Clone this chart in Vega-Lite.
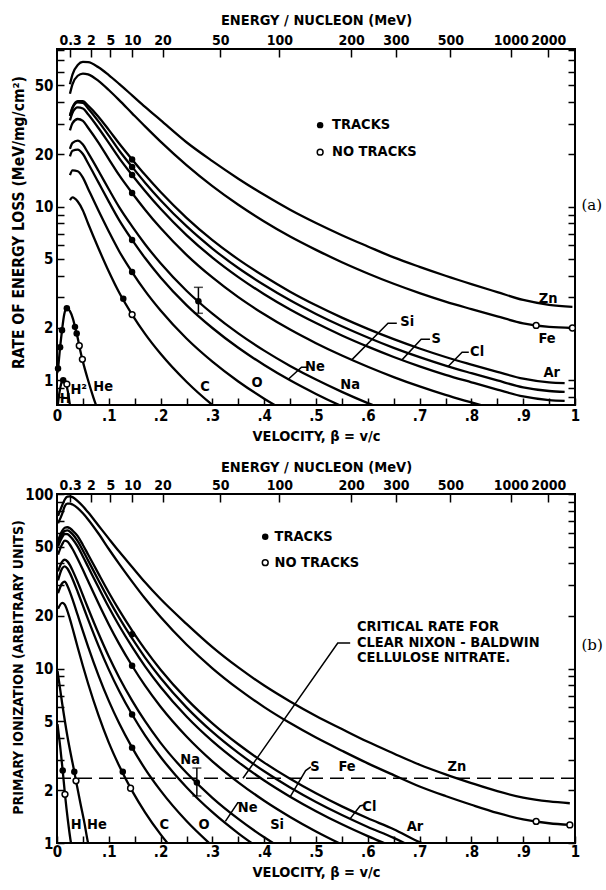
{
"$schema":"https://vega.github.io/schema/vega-lite/v6.json",
"autosize":{"type":"none"},
"params":[{"name":"width","value":518},{"name":"height","value":794}],
"padding":{"left":57,"top":49,"right":31,"bottom":47},
"bounds":"flush",
"spacing":89,
"background":"white",
"config":{
 "view":{"stroke":"black","strokeWidth":2},
 "axis":{"domain":false,"grid":false,"labelFont":"DejaVu Sans Condensed, sans-serif","labelFontWeight":"bold","labelFontSize":15,"labelColor":"black","titleFont":"DejaVu Sans Condensed, sans-serif","titleFontWeight":"bold","titleFontSize":14.5,"titleColor":"black","tickColor":"black","tickWidth":1.5,"tickSize":-7,"labelOverlap":false,"labelFlush":false,"labelBound":false},
 "text":{"font":"DejaVu Sans Condensed, sans-serif","fontWeight":"bold","fontSize":14.5,"color":"black"}
},
"datasets":{
"ac":[
{"s":"H","b":0.001,"v":0.7},{"s":"H","b":0.005,"v":0.86},{"s":"H","b":0.009,"v":0.97},{"s":"H","b":0.013,"v":1.0},{"s":"H","b":0.017,"v":0.96},{"s":"H","b":0.021,"v":0.86},{"s":"H","b":0.025,"v":0.72},{"s":"H","b":0.027,"v":0.68},
{"s":"He","b":0.0005,"v":1.1},{"s":"He","b":0.002,"v":1.17},{"s":"He","b":0.006,"v":1.55},{"s":"He","b":0.0097,"v":1.94},{"s":"He","b":0.014,"v":2.4},{"s":"He","b":0.019,"v":2.6},{"s":"He","b":0.025,"v":2.5},{"s":"He","b":0.031,"v":2.25},{"s":"He","b":0.0347,"v":2.03},{"s":"He","b":0.04,"v":1.75},{"s":"He","b":0.045,"v":1.48},{"s":"He","b":0.05,"v":1.28},{"s":"He","b":0.06,"v":1.0},{"s":"He","b":0.07,"v":0.8},{"s":"He","b":0.076,"v":0.71},
{"s":"C","b":0.025,"v":10.9},{"s":"C","b":0.03,"v":11.3},{"s":"C","b":0.04,"v":10.7},{"s":"C","b":0.05,"v":9.5},{"s":"C","b":0.06,"v":8.0},{"s":"C","b":0.08,"v":5.76},{"s":"C","b":0.1,"v":4.23},{"s":"C","b":0.12,"v":3.2},{"s":"C","b":0.145,"v":2.39},{"s":"C","b":0.17,"v":1.85},{"s":"C","b":0.2,"v":1.42},{"s":"C","b":0.25,"v":0.98},{"s":"C","b":0.3,"v":0.72},{"s":"C","b":0.35,"v":0.554},
{"s":"O","b":0.025,"v":15.2},{"s":"O","b":0.03,"v":16.2},{"s":"O","b":0.04,"v":16.0},{"s":"O","b":0.05,"v":14.7},{"s":"O","b":0.06,"v":12.7},{"s":"O","b":0.08,"v":9.5},{"s":"O","b":0.1,"v":7.2},{"s":"O","b":0.12,"v":5.54},{"s":"O","b":0.145,"v":4.2},{"s":"O","b":0.17,"v":3.27},{"s":"O","b":0.2,"v":2.52},{"s":"O","b":0.25,"v":1.74},{"s":"O","b":0.3,"v":1.28},{"s":"O","b":0.35,"v":0.984},{"s":"O","b":0.4,"v":0.783},{"s":"O","b":0.45,"v":0.639},
{"s":"Ne","b":0.025,"v":19.5},{"s":"Ne","b":0.03,"v":21.0},{"s":"Ne","b":0.04,"v":21.3},{"s":"Ne","b":0.05,"v":20.1},{"s":"Ne","b":0.06,"v":17.8},{"s":"Ne","b":0.08,"v":13.8},{"s":"Ne","b":0.1,"v":10.7},{"s":"Ne","b":0.12,"v":8.37},{"s":"Ne","b":0.145,"v":6.43},{"s":"Ne","b":0.17,"v":5.06},{"s":"Ne","b":0.2,"v":3.91},{"s":"Ne","b":0.25,"v":2.71},{"s":"Ne","b":0.3,"v":2.0},{"s":"Ne","b":0.35,"v":1.538},{"s":"Ne","b":0.4,"v":1.224},{"s":"Ne","b":0.45,"v":0.999},{"s":"Ne","b":0.5,"v":0.834},{"s":"Ne","b":0.55,"v":0.708},{"s":"Ne","b":0.6,"v":0.61},
{"s":"Na","b":0.025,"v":21.5},{"s":"Na","b":0.03,"v":23.3},{"s":"Na","b":0.04,"v":24.0},{"s":"Na","b":0.05,"v":22.8},{"s":"Na","b":0.06,"v":20.4},{"s":"Na","b":0.08,"v":16.1},{"s":"Na","b":0.1,"v":12.6},{"s":"Na","b":0.12,"v":9.94},{"s":"Na","b":0.145,"v":7.7},{"s":"Na","b":0.17,"v":6.08},{"s":"Na","b":0.2,"v":4.72},{"s":"Na","b":0.25,"v":3.28},{"s":"Na","b":0.3,"v":2.42},{"s":"Na","b":0.35,"v":1.861},{"s":"Na","b":0.4,"v":1.481},{"s":"Na","b":0.45,"v":1.209},{"s":"Na","b":0.5,"v":1.009},{"s":"Na","b":0.55,"v":0.857},{"s":"Na","b":0.6,"v":0.738},{"s":"Na","b":0.65,"v":0.644},
{"s":"Si","b":0.025,"v":27.5},{"s":"Si","b":0.03,"v":30.3},{"s":"Si","b":0.04,"v":32.0},{"s":"Si","b":0.05,"v":31.2},{"s":"Si","b":0.06,"v":28.5},{"s":"Si","b":0.08,"v":23.4},{"s":"Si","b":0.1,"v":18.8},{"s":"Si","b":0.12,"v":15.19},{"s":"Si","b":0.145,"v":12.0},{"s":"Si","b":0.17,"v":9.61},{"s":"Si","b":0.2,"v":7.53},{"s":"Si","b":0.25,"v":5.28},{"s":"Si","b":0.3,"v":3.91},{"s":"Si","b":0.35,"v":3.01},{"s":"Si","b":0.4,"v":2.4},{"s":"Si","b":0.45,"v":1.958},{"s":"Si","b":0.5,"v":1.635},{"s":"Si","b":0.55,"v":1.388},{"s":"Si","b":0.6,"v":1.196},{"s":"Si","b":0.65,"v":1.043},{"s":"Si","b":0.7,"v":0.921},{"s":"Si","b":0.75,"v":0.823},{"s":"Si","b":0.8,"v":0.745},{"s":"Si","b":0.85,"v":0.676},
{"s":"S","b":0.025,"v":31.4},{"s":"S","b":0.03,"v":34.8},{"s":"S","b":0.04,"v":37.3},{"s":"S","b":0.05,"v":36.8},{"s":"S","b":0.06,"v":34.1},{"s":"S","b":0.08,"v":28.4},{"s":"S","b":0.1,"v":23.3},{"s":"S","b":0.12,"v":19.06},{"s":"S","b":0.145,"v":15.23},{"s":"S","b":0.17,"v":12.31},{"s":"S","b":0.2,"v":9.72},{"s":"S","b":0.25,"v":6.86},{"s":"S","b":0.3,"v":5.09},{"s":"S","b":0.35,"v":3.93},{"s":"S","b":0.4,"v":3.13},{"s":"S","b":0.45,"v":2.557},{"s":"S","b":0.5,"v":2.135},{"s":"S","b":0.55,"v":1.812},{"s":"S","b":0.6,"v":1.562},{"s":"S","b":0.65,"v":1.362},{"s":"S","b":0.7,"v":1.203},{"s":"S","b":0.75,"v":1.075},{"s":"S","b":0.8,"v":0.973},{"s":"S","b":0.85,"v":0.883},{"s":"S","b":0.9,"v":0.806},{"s":"S","b":0.95,"v":0.768},{"s":"S","b":0.98,"v":0.76},
{"s":"Cl","b":0.025,"v":33.3},{"s":"Cl","b":0.03,"v":37.0},{"s":"Cl","b":0.04,"v":39.9},{"s":"Cl","b":0.05,"v":39.6},{"s":"Cl","b":0.06,"v":36.8},{"s":"Cl","b":0.08,"v":31.0},{"s":"Cl","b":0.1,"v":25.65},{"s":"Cl","b":0.12,"v":21.07},{"s":"Cl","b":0.145,"v":16.95},{"s":"Cl","b":0.17,"v":13.75},{"s":"Cl","b":0.2,"v":10.9},{"s":"Cl","b":0.25,"v":7.72},{"s":"Cl","b":0.3,"v":5.74},{"s":"Cl","b":0.35,"v":4.43},{"s":"Cl","b":0.4,"v":3.54},{"s":"Cl","b":0.45,"v":2.887},{"s":"Cl","b":0.5,"v":2.41},{"s":"Cl","b":0.55,"v":2.046},{"s":"Cl","b":0.6,"v":1.763},{"s":"Cl","b":0.65,"v":1.537},{"s":"Cl","b":0.7,"v":1.358},{"s":"Cl","b":0.75,"v":1.214},{"s":"Cl","b":0.8,"v":1.098},{"s":"Cl","b":0.85,"v":0.997},{"s":"Cl","b":0.9,"v":0.91},{"s":"Cl","b":0.95,"v":0.867},{"s":"Cl","b":0.98,"v":0.857},
{"s":"Ar","b":0.025,"v":33.5},{"s":"Ar","b":0.03,"v":37.4},{"s":"Ar","b":0.04,"v":40.6},{"s":"Ar","b":0.05,"v":40.5},{"s":"Ar","b":0.06,"v":38.2},{"s":"Ar","b":0.08,"v":33.0},{"s":"Ar","b":0.1,"v":27.7},{"s":"Ar","b":0.12,"v":23.14},{"s":"Ar","b":0.145,"v":18.72},{"s":"Ar","b":0.17,"v":15.26},{"s":"Ar","b":0.2,"v":12.14},{"s":"Ar","b":0.25,"v":8.63},{"s":"Ar","b":0.3,"v":6.42},{"s":"Ar","b":0.35,"v":4.97},{"s":"Ar","b":0.4,"v":3.97},{"s":"Ar","b":0.45,"v":3.237},{"s":"Ar","b":0.5,"v":2.702},{"s":"Ar","b":0.55,"v":2.294},{"s":"Ar","b":0.6,"v":1.976},{"s":"Ar","b":0.65,"v":1.724},{"s":"Ar","b":0.7,"v":1.523},{"s":"Ar","b":0.75,"v":1.361},{"s":"Ar","b":0.8,"v":1.231},{"s":"Ar","b":0.85,"v":1.118},{"s":"Ar","b":0.9,"v":1.021},{"s":"Ar","b":0.95,"v":0.972},{"s":"Ar","b":0.98,"v":0.962},
{"s":"Fe","b":0.025,"v":44.7},{"s":"Fe","b":0.03,"v":50.8},{"s":"Fe","b":0.04,"v":56.8},{"s":"Fe","b":0.05,"v":58.5},{"s":"Fe","b":0.06,"v":57.8},{"s":"Fe","b":0.08,"v":53.1},{"s":"Fe","b":0.1,"v":47.0},{"s":"Fe","b":0.12,"v":41.1},{"s":"Fe","b":0.145,"v":34.5},{"s":"Fe","b":0.17,"v":29.0},{"s":"Fe","b":0.2,"v":23.7},{"s":"Fe","b":0.25,"v":17.36},{"s":"Fe","b":0.3,"v":13.14},{"s":"Fe","b":0.35,"v":10.26},{"s":"Fe","b":0.4,"v":8.22},{"s":"Fe","b":0.45,"v":6.73},{"s":"Fe","b":0.5,"v":5.64},{"s":"Fe","b":0.55,"v":4.786},{"s":"Fe","b":0.6,"v":4.124},{"s":"Fe","b":0.65,"v":3.596},{"s":"Fe","b":0.7,"v":3.177},{"s":"Fe","b":0.75,"v":2.839},{"s":"Fe","b":0.8,"v":2.569},{"s":"Fe","b":0.85,"v":2.332},{"s":"Fe","b":0.9,"v":2.129},{"s":"Fe","b":0.95,"v":2.028},{"s":"Fe","b":0.995,"v":2.0},
{"s":"Zn","b":0.025,"v":50.8},{"s":"Zn","b":0.03,"v":57.9},{"s":"Zn","b":0.04,"v":65.6},{"s":"Zn","b":0.05,"v":68.2},{"s":"Zn","b":0.06,"v":68.0},{"s":"Zn","b":0.08,"v":63.6},{"s":"Zn","b":0.1,"v":57.3},{"s":"Zn","b":0.12,"v":51.0},{"s":"Zn","b":0.145,"v":43.8},{"s":"Zn","b":0.17,"v":37.6},{"s":"Zn","b":0.2,"v":31.5},{"s":"Zn","b":0.25,"v":23.5},{"s":"Zn","b":0.3,"v":18.3},{"s":"Zn","b":0.35,"v":14.5},{"s":"Zn","b":0.4,"v":11.7},{"s":"Zn","b":0.45,"v":9.6},{"s":"Zn","b":0.5,"v":8.05},{"s":"Zn","b":0.55,"v":6.85},{"s":"Zn","b":0.6,"v":5.9},{"s":"Zn","b":0.65,"v":5.1},{"s":"Zn","b":0.7,"v":4.5},{"s":"Zn","b":0.75,"v":4.0},{"s":"Zn","b":0.8,"v":3.58},{"s":"Zn","b":0.85,"v":3.22},{"s":"Zn","b":0.9,"v":2.9},{"s":"Zn","b":0.95,"v":2.72},{"s":"Zn","b":0.995,"v":2.65}
],
"al":[
{"id":"Si","o":1,"b":0.569,"v":1.31},{"id":"Si","o":2,"b":0.639,"v":2.13},{"id":"Si","o":3,"b":0.656,"v":2.13},
{"id":"S","o":1,"b":0.666,"v":1.31},{"id":"S","o":2,"b":0.703,"v":1.72},{"id":"S","o":3,"b":0.72,"v":1.72},
{"id":"Cl","o":1,"b":0.755,"v":1.2},{"id":"Cl","o":2,"b":0.782,"v":1.45},{"id":"Cl","o":3,"b":0.795,"v":1.45},
{"id":"Ne","o":1,"b":0.446,"v":1.01},{"id":"Ne","o":2,"b":0.472,"v":1.19},{"id":"Ne","o":3,"b":0.485,"v":1.19}
],
"ae":[{"b":0.273,"lo":2.43,"hi":3.43}],
"ap":[
{"t":"f","b":0.002,"v":1.17},{"t":"f","b":0.006,"v":1.55},{"t":"f","b":0.0097,"v":1.94},{"t":"f","b":0.019,"v":2.6},{"t":"f","b":0.0347,"v":2.03},{"t":"f","b":0.038,"v":1.86},{"t":"f","b":0.012,"v":1.0},
{"t":"f","b":0.145,"v":18.72},{"t":"f","b":0.145,"v":16.95},{"t":"f","b":0.145,"v":15.23},{"t":"f","b":0.145,"v":12.0},{"t":"f","b":0.145,"v":6.43},{"t":"f","b":0.145,"v":4.2},
{"t":"f","b":0.128,"v":2.95},{"t":"f","b":0.273,"v":2.85},{"t":"f","b":0.508,"v":29.5},
{"t":"o","b":0.043,"v":1.58},{"t":"o","b":0.049,"v":1.32},{"t":"o","b":0.019,"v":0.95},{"t":"o","b":0.145,"v":2.39},{"t":"o","b":0.925,"v":2.07},{"t":"o","b":0.995,"v":2.0},{"t":"o","b":0.508,"v":20.6}
],
"at":[
{"a":"c","b":0.948,"v":2.95,"t":"Zn"},{"a":"c","b":0.946,"v":1.72,"t":"Fe"},{"a":"c","b":0.955,"v":1.1,"t":"Ar"},{"a":"c","b":0.676,"v":2.17,"t":"Si"},{"a":"c","b":0.732,"v":1.72,"t":"S"},{"a":"c","b":0.811,"v":1.45,"t":"Cl"},{"a":"c","b":0.498,"v":1.19,"t":"Ne"},{"a":"c","b":0.566,"v":0.935,"t":"Na"},{"a":"c","b":0.286,"v":0.915,"t":"C"},{"a":"c","b":0.386,"v":0.96,"t":"O"},{"a":"c","b":0.089,"v":0.92,"t":"He"},{"a":"c","b":0.042,"v":0.88,"t":"H²"},{"a":"c","b":0.016,"v":0.78,"t":"H"},
{"a":"l","b":0.531,"v":29.5,"t":"TRACKS"},{"a":"l","b":0.531,"v":20.6,"t":"NO TRACKS"}
],
"bc":[
{"s":"H","b":0.001,"v":4.8},{"s":"H","b":0.006,"v":3.6},{"s":"H","b":0.011,"v":2.6},{"s":"H","b":0.0154,"v":1.9},{"s":"H","b":0.021,"v":1.35},{"s":"H","b":0.027,"v":1.0},{"s":"H","b":0.03,"v":0.9},
{"s":"He","b":0.001,"v":9.7},{"s":"He","b":0.01,"v":6.3},{"s":"He","b":0.02,"v":4.1},{"s":"He","b":0.0334,"v":2.56},{"s":"He","b":0.0367,"v":2.27},{"s":"He","b":0.045,"v":1.7},{"s":"He","b":0.053,"v":1.3},{"s":"He","b":0.06,"v":1.0},{"s":"He","b":0.065,"v":0.88},
{"s":"C","b":0.002,"v":22},{"s":"C","b":0.01,"v":23.8},{"s":"C","b":0.015,"v":23.2},{"s":"C","b":0.02,"v":21.4},{"s":"C","b":0.025,"v":19.2},{"s":"C","b":0.03,"v":17.0},{"s":"C","b":0.04,"v":13.2},{"s":"C","b":0.05,"v":10.33},{"s":"C","b":0.06,"v":8.2},{"s":"C","b":0.08,"v":5.4},{"s":"C","b":0.1,"v":3.76},{"s":"C","b":0.12,"v":2.77},{"s":"C","b":0.145,"v":1.99},{"s":"C","b":0.17,"v":1.5},{"s":"C","b":0.2,"v":1.12},{"s":"C","b":0.25,"v":0.751},
{"s":"O","b":0.002,"v":27},{"s":"O","b":0.01,"v":30.8},{"s":"O","b":0.015,"v":31.5},{"s":"O","b":0.02,"v":29.8},{"s":"O","b":0.025,"v":27.4},{"s":"O","b":0.03,"v":24.9},{"s":"O","b":0.04,"v":20.2},{"s":"O","b":0.05,"v":16.37},{"s":"O","b":0.06,"v":13.35},{"s":"O","b":0.08,"v":9.14},{"s":"O","b":0.1,"v":6.52},{"s":"O","b":0.12,"v":4.85},{"s":"O","b":0.145,"v":3.52},{"s":"O","b":0.17,"v":2.66},{"s":"O","b":0.2,"v":1.995},{"s":"O","b":0.25,"v":1.336},{"s":"O","b":0.3,"v":0.961},
{"s":"Ne","b":0.002,"v":32},{"s":"Ne","b":0.01,"v":37.5},{"s":"Ne","b":0.015,"v":38.5},{"s":"Ne","b":0.02,"v":37.4},{"s":"Ne","b":0.025,"v":35.2},{"s":"Ne","b":0.03,"v":32.6},{"s":"Ne","b":0.04,"v":27.45},{"s":"Ne","b":0.05,"v":22.9},{"s":"Ne","b":0.06,"v":19.11},{"s":"Ne","b":0.08,"v":13.52},{"s":"Ne","b":0.1,"v":9.85},{"s":"Ne","b":0.12,"v":7.43},{"s":"Ne","b":0.145,"v":5.45},{"s":"Ne","b":0.17,"v":4.14},{"s":"Ne","b":0.2,"v":3.11},{"s":"Ne","b":0.25,"v":2.087},{"s":"Ne","b":0.3,"v":1.501},{"s":"Ne","b":0.35,"v":1.136},{"s":"Ne","b":0.4,"v":0.891},
{"s":"Na","b":0.002,"v":36},{"s":"Na","b":0.01,"v":41.0},{"s":"Na","b":0.015,"v":42.0},{"s":"Na","b":0.02,"v":41.1},{"s":"Na","b":0.025,"v":39.1},{"s":"Na","b":0.03,"v":36.5},{"s":"Na","b":0.04,"v":31.2},{"s":"Na","b":0.05,"v":26.3},{"s":"Na","b":0.06,"v":22.15},{"s":"Na","b":0.08,"v":15.91},{"s":"Na","b":0.1,"v":11.71},{"s":"Na","b":0.12,"v":8.89},{"s":"Na","b":0.145,"v":6.55},{"s":"Na","b":0.17,"v":4.99},{"s":"Na","b":0.2,"v":3.75},{"s":"Na","b":0.25,"v":2.525},{"s":"Na","b":0.3,"v":1.816},{"s":"Na","b":0.35,"v":1.375},{"s":"Na","b":0.4,"v":1.078},{"s":"Na","b":0.45,"v":0.871},
{"s":"Si","b":0.002,"v":45},{"s":"Si","b":0.01,"v":51.5},{"s":"Si","b":0.015,"v":54.0},{"s":"Si","b":0.02,"v":53.5},{"s":"Si","b":0.025,"v":51.2},{"s":"Si","b":0.03,"v":48.4},{"s":"Si","b":0.04,"v":42.4},{"s":"Si","b":0.05,"v":36.76},{"s":"Si","b":0.06,"v":31.7},{"s":"Si","b":0.08,"v":23.65},{"s":"Si","b":0.1,"v":17.89},{"s":"Si","b":0.12,"v":13.85},{"s":"Si","b":0.145,"v":10.37},{"s":"Si","b":0.17,"v":7.97},{"s":"Si","b":0.2,"v":6.04},{"s":"Si","b":0.25,"v":4.08},{"s":"Si","b":0.3,"v":2.94},{"s":"Si","b":0.35,"v":2.227},{"s":"Si","b":0.4,"v":1.747},{"s":"Si","b":0.45,"v":1.411},{"s":"Si","b":0.5,"v":1.165},{"s":"Si","b":0.55,"v":0.98},
{"s":"S","b":0.002,"v":50},{"s":"S","b":0.01,"v":56.5},{"s":"S","b":0.015,"v":59.0},{"s":"S","b":0.02,"v":58.8},{"s":"S","b":0.025,"v":57.4},{"s":"S","b":0.03,"v":55.2},{"s":"S","b":0.04,"v":49.9},{"s":"S","b":0.05,"v":43.86},{"s":"S","b":0.06,"v":38.3},{"s":"S","b":0.08,"v":29.19},{"s":"S","b":0.1,"v":22.43},{"s":"S","b":0.12,"v":17.58},{"s":"S","b":0.145,"v":13.3},{"s":"S","b":0.17,"v":10.29},{"s":"S","b":0.2,"v":7.84},{"s":"S","b":0.25,"v":5.31},{"s":"S","b":0.3,"v":3.835},{"s":"S","b":0.35,"v":2.908},{"s":"S","b":0.4,"v":2.282},{"s":"S","b":0.45,"v":1.843},{"s":"S","b":0.5,"v":1.522},{"s":"S","b":0.55,"v":1.28},{"s":"S","b":0.6,"v":1.095},{"s":"S","b":0.65,"v":0.948},
{"s":"Cl","b":0.002,"v":52},{"s":"Cl","b":0.01,"v":59.0},{"s":"Cl","b":0.015,"v":61.5},{"s":"Cl","b":0.02,"v":61.8},{"s":"Cl","b":0.025,"v":60.8},{"s":"Cl","b":0.03,"v":58.9},{"s":"Cl","b":0.04,"v":53.65},{"s":"Cl","b":0.05,"v":47.45},{"s":"Cl","b":0.06,"v":41.67},{"s":"Cl","b":0.08,"v":32.05},{"s":"Cl","b":0.1,"v":24.81},{"s":"Cl","b":0.12,"v":19.55},{"s":"Cl","b":0.145,"v":14.86},{"s":"Cl","b":0.17,"v":11.55},{"s":"Cl","b":0.2,"v":8.82},{"s":"Cl","b":0.25,"v":5.99},{"s":"Cl","b":0.3,"v":4.33},{"s":"Cl","b":0.35,"v":3.283},{"s":"Cl","b":0.4,"v":2.576},{"s":"Cl","b":0.45,"v":2.08},{"s":"Cl","b":0.5,"v":1.718},{"s":"Cl","b":0.55,"v":1.446},{"s":"Cl","b":0.6,"v":1.236},{"s":"Cl","b":0.65,"v":1.07},{"s":"Cl","b":0.7,"v":0.902},
{"s":"Ar","b":0.002,"v":54},{"s":"Ar","b":0.01,"v":61.5},{"s":"Ar","b":0.015,"v":64.0},{"s":"Ar","b":0.02,"v":64.5},{"s":"Ar","b":0.025,"v":63.6},{"s":"Ar","b":0.03,"v":61.8},{"s":"Ar","b":0.04,"v":57.36},{"s":"Ar","b":0.05,"v":51.05},{"s":"Ar","b":0.06,"v":45.04},{"s":"Ar","b":0.08,"v":34.95},{"s":"Ar","b":0.1,"v":27.25},{"s":"Ar","b":0.12,"v":21.59},{"s":"Ar","b":0.145,"v":16.5},{"s":"Ar","b":0.17,"v":12.86},{"s":"Ar","b":0.2,"v":9.84},{"s":"Ar","b":0.25,"v":6.7},{"s":"Ar","b":0.3,"v":4.85},{"s":"Ar","b":0.35,"v":3.68},{"s":"Ar","b":0.4,"v":2.888},{"s":"Ar","b":0.45,"v":2.332},{"s":"Ar","b":0.5,"v":1.926},{"s":"Ar","b":0.55,"v":1.621},{"s":"Ar","b":0.6,"v":1.385},{"s":"Ar","b":0.65,"v":1.2},{"s":"Ar","b":0.7,"v":1.011},{"s":"Ar","b":0.75,"v":0.891},
{"s":"Fe","b":0.002,"v":68},{"s":"Fe","b":0.01,"v":77},{"s":"Fe","b":0.015,"v":85},{"s":"Fe","b":0.02,"v":88},{"s":"Fe","b":0.025,"v":88},{"s":"Fe","b":0.03,"v":87},{"s":"Fe","b":0.04,"v":83},{"s":"Fe","b":0.05,"v":77.5},{"s":"Fe","b":0.06,"v":71.5},{"s":"Fe","b":0.08,"v":59.37},{"s":"Fe","b":0.1,"v":48.41},{"s":"Fe","b":0.12,"v":39.78},{"s":"Fe","b":0.145,"v":31.49},{"s":"Fe","b":0.17,"v":25.19},{"s":"Fe","b":0.2,"v":19.71},{"s":"Fe","b":0.25,"v":13.72},{"s":"Fe","b":0.3,"v":10.03},{"s":"Fe","b":0.35,"v":7.64},{"s":"Fe","b":0.4,"v":6.01},{"s":"Fe","b":0.45,"v":4.866},{"s":"Fe","b":0.5,"v":4.019},{"s":"Fe","b":0.55,"v":3.381},{"s":"Fe","b":0.6,"v":2.86},{"s":"Fe","b":0.65,"v":2.45},{"s":"Fe","b":0.7,"v":2.109},{"s":"Fe","b":0.75,"v":1.859},{"s":"Fe","b":0.8,"v":1.656},{"s":"Fe","b":0.85,"v":1.487},{"s":"Fe","b":0.9,"v":1.366},{"s":"Fe","b":0.95,"v":1.298},{"s":"Fe","b":0.99,"v":1.271},
{"s":"Zn","b":0.002,"v":75},{"s":"Zn","b":0.01,"v":86},{"s":"Zn","b":0.015,"v":93},{"s":"Zn","b":0.02,"v":96.5},{"s":"Zn","b":0.025,"v":97},{"s":"Zn","b":0.03,"v":96},{"s":"Zn","b":0.04,"v":91},{"s":"Zn","b":0.05,"v":85},{"s":"Zn","b":0.06,"v":78.5},{"s":"Zn","b":0.08,"v":66},{"s":"Zn","b":0.1,"v":55.5},{"s":"Zn","b":0.12,"v":46.8},{"s":"Zn","b":0.145,"v":38.2},{"s":"Zn","b":0.17,"v":31.2},{"s":"Zn","b":0.2,"v":25.0},{"s":"Zn","b":0.25,"v":18.02},{"s":"Zn","b":0.3,"v":13.26},{"s":"Zn","b":0.35,"v":10.14},{"s":"Zn","b":0.4,"v":7.99},{"s":"Zn","b":0.45,"v":6.478},{"s":"Zn","b":0.5,"v":5.35},{"s":"Zn","b":0.55,"v":4.5},{"s":"Zn","b":0.6,"v":3.8},{"s":"Zn","b":0.65,"v":3.26},{"s":"Zn","b":0.7,"v":2.81},{"s":"Zn","b":0.75,"v":2.475},{"s":"Zn","b":0.8,"v":2.205},{"s":"Zn","b":0.85,"v":1.98},{"s":"Zn","b":0.9,"v":1.82},{"s":"Zn","b":0.95,"v":1.73},{"s":"Zn","b":0.99,"v":1.69}
],
"bl":[
{"id":"Ne","o":1,"b":0.325,"v":1.33},{"id":"Ne","o":2,"b":0.349,"v":1.7},{"id":"Ne","o":3,"b":0.356,"v":1.7},
{"id":"S","o":1,"b":0.45,"v":1.84},{"id":"S","o":2,"b":0.48,"v":2.6},{"id":"S","o":3,"b":0.49,"v":2.73},
{"id":"Cl","o":1,"b":0.566,"v":1.38},{"id":"Cl","o":2,"b":0.585,"v":1.63},{"id":"Cl","o":3,"b":0.592,"v":1.65},
{"id":"CR","o":1,"b":0.359,"v":2.35},{"id":"CR","o":2,"b":0.542,"v":14.0},{"id":"CR","o":3,"b":0.566,"v":14.0}
],
"be":[{"b":0.27,"lo":1.86,"hi":2.69}],
"bd":[{"v":2.35}],
"bp":[
{"t":"f","b":0.011,"v":2.6},{"t":"f","b":0.0334,"v":2.56},{"t":"f","b":0.127,"v":2.56},{"t":"f","b":0.27,"v":2.22},{"t":"f","b":0.145,"v":15.7},{"t":"f","b":0.145,"v":10.37},{"t":"f","b":0.145,"v":5.45},{"t":"f","b":0.145,"v":3.52},{"t":"f","b":0.402,"v":56.9},
{"t":"o","b":0.0154,"v":1.9},{"t":"o","b":0.0367,"v":2.27},{"t":"o","b":0.142,"v":2.06},{"t":"o","b":0.925,"v":1.33},{"t":"o","b":0.99,"v":1.27},{"t":"o","b":0.402,"v":40.4}
],
"bt":[
{"a":"c","b":0.037,"v":1.27,"t":"H"},{"a":"c","b":0.077,"v":1.27,"t":"He"},{"a":"c","b":0.207,"v":1.27,"t":"C"},{"a":"c","b":0.284,"v":1.27,"t":"O"},{"a":"c","b":0.425,"v":1.27,"t":"Si"},{"a":"c","b":0.368,"v":1.59,"t":"Ne"},{"a":"c","b":0.257,"v":2.99,"t":"Na"},{"a":"c","b":0.498,"v":2.73,"t":"S"},{"a":"c","b":0.56,"v":2.73,"t":"Fe"},{"a":"c","b":0.603,"v":1.61,"t":"Cl"},{"a":"c","b":0.691,"v":1.24,"t":"Ar"},{"a":"c","b":0.772,"v":2.73,"t":"Zn"},
{"a":"l","b":0.42,"v":56.9,"t":"TRACKS"},{"a":"l","b":0.42,"v":40.4,"t":"NO TRACKS"},
{"a":"l","b":0.579,"v":17.3,"t":"CRITICAL  RATE  FOR"},{"a":"l","b":0.579,"v":14.0,"t":"CLEAR  NIXON - BALDWIN"},{"a":"l","b":0.579,"v":11.5,"t":"CELLULOSE  NITRATE."}
]
},
"vconcat":[
{
 "width":518,"height":356,
 "resolve":{"axis":{"x":"independent","y":"independent"}},
 "layer":[
  {"data":{"name":"ac"},"mark":{"type":"line","clip":true,"interpolate":"monotone","strokeWidth":2.3,"color":"black"},
   "encoding":{
    "x":{"field":"b","type":"quantitative","scale":{"domain":[0,1],"nice":false,"zero":false},
      "axis":{"orient":"bottom","values":[0,0.05,0.1,0.15,0.2,0.25,0.3,0.35,0.4,0.45,0.5,0.55,0.6,0.65,0.7,0.75,0.8,0.85,0.9,0.95,1],
      "labelExpr":"datum.value == 0 ? '0' : datum.value == 1 ? '1' : (round(datum.value*100) % 10 == 0 ? replace(format(datum.value, '.1f'), '0.', '.') : '')",
      "labelPadding":10,"title":"VELOCITY,  β = v/c","titlePadding":6}},
    "y":{"field":"v","type":"quantitative","scale":{"type":"log","domain":[0.72,81],"nice":false},
      "axis":{"orient":"left","values":[0.8,0.9,1,2,3,4,5,6,7,8,9,10,20,30,40,50,60,70,80],
      "labelExpr":"indexof([1,2,5,10,20,50], datum.value) >= 0 ? '' + datum.value : ''",
      "labelPadding":11,"title":"RATE OF ENERGY LOSS (MeV/mg/cm²)","titleFontSize":15.5,"titleX":-39,"titleBaseline":"middle","titleY":173}},
    "detail":{"field":"s"}}},
  {"data":{"name":"al"},"mark":{"type":"line","strokeWidth":1.5,"color":"black"},
   "encoding":{"x":{"field":"b","type":"quantitative","axis":null},"y":{"field":"v","type":"quantitative","axis":null},"detail":{"field":"id"},"order":{"field":"o"}}},
  {"data":{"name":"ae"},"mark":{"type":"rule","strokeWidth":1.5,"color":"black"},
   "encoding":{"x":{"field":"b","type":"quantitative","axis":null},"y":{"field":"lo","type":"quantitative","axis":null},"y2":{"field":"hi"}}},
  {"data":{"name":"ae"},"mark":{"type":"tick","orient":"horizontal","size":9,"thickness":1.5,"color":"black"},
   "encoding":{"x":{"field":"b","type":"quantitative","axis":null},"y":{"field":"lo","type":"quantitative","axis":null}}},
  {"data":{"name":"ae"},"mark":{"type":"tick","orient":"horizontal","size":9,"thickness":1.5,"color":"black"},
   "encoding":{"x":{"field":"b","type":"quantitative","axis":null},"y":{"field":"hi","type":"quantitative","axis":null}}},
  {"data":{"name":"ap"},"transform":[{"filter":"datum.t == 'f'"}],"mark":{"type":"circle","size":42,"color":"black","opacity":1},
   "encoding":{"x":{"field":"b","type":"quantitative","axis":null},"y":{"field":"v","type":"quantitative","axis":null}}},
  {"data":{"name":"ap"},"transform":[{"filter":"datum.t == 'o'"}],"mark":{"type":"point","shape":"circle","filled":true,"fill":"white","stroke":"black","strokeWidth":1.5,"size":34,"opacity":1},
   "encoding":{"x":{"field":"b","type":"quantitative","axis":null},"y":{"field":"v","type":"quantitative","axis":null}}},
  {"data":{"name":"at"},"transform":[{"filter":"datum.a == 'c'"}],"mark":{"type":"text","align":"center","baseline":"middle"},
   "encoding":{
    "x":{"field":"b","type":"quantitative","axis":{"orient":"top","values":[0.0254,0.0655,0.1032,0.1453,0.2039,0.3151,0.4295,0.5677,0.6541,0.7593,0.876,0.9482],
      "labelExpr":"['0.3','2','5','10','20','50','100','200','300','500','1000','2000'][indexof([0.0254,0.0655,0.1032,0.1453,0.2039,0.3151,0.4295,0.5677,0.6541,0.7593,0.876,0.9482], datum.value)]",
      "labelFontSize":14,"labelPadding":10,"tickSize":-8,"title":"ENERGY / NUCLEON (MeV)","titlePadding":6}},
    "y":{"field":"v","type":"quantitative","axis":{"orient":"right","values":[0.8,0.9,1,2,3,4,5,6,7,8,9,10,20,30,40,50,60,70,80],"labels":false,
      "title":"(a)","titleAngle":0,"titleFont":"DejaVu Serif","titleFontWeight":"normal","titleFontSize":15,"titleAlign":"left","titleBaseline":"middle","titleX":6,"titleY":155}},
    "text":{"field":"t"}}},
  {"data":{"name":"at"},"transform":[{"filter":"datum.a == 'l'"}],"mark":{"type":"text","align":"left","baseline":"middle"},
   "encoding":{"x":{"field":"b","type":"quantitative","axis":null},"y":{"field":"v","type":"quantitative","axis":null},"text":{"field":"t"}}}
 ]
},
{
 "width":518,"height":349,
 "resolve":{"axis":{"x":"independent","y":"independent"}},
 "layer":[
  {"data":{"name":"bc"},"mark":{"type":"line","clip":true,"interpolate":"monotone","strokeWidth":2.3,"color":"black"},
   "encoding":{
    "x":{"field":"b","type":"quantitative","scale":{"domain":[0,1],"nice":false,"zero":false},
      "axis":{"orient":"bottom","values":[0,0.05,0.1,0.15,0.2,0.25,0.3,0.35,0.4,0.45,0.5,0.55,0.6,0.65,0.7,0.75,0.8,0.85,0.9,0.95,1],
      "labelExpr":"datum.value == 0 ? '0' : datum.value == 1 ? '1' : (round(datum.value*100) % 10 == 0 ? replace(format(datum.value, '.1f'), '0.', '.') : '')",
      "labelPadding":8,"title":"VELOCITY,  β = v/c","titlePadding":6}},
    "y":{"field":"v","type":"quantitative","scale":{"type":"log","domain":[1,100],"nice":false},
      "axis":{"orient":"left","values":[1,2,3,4,5,6,7,8,9,10,20,30,40,50,60,70,80,90,100],
      "labelExpr":"indexof([1,2,5,10,20,50,100], datum.value) >= 0 ? '' + datum.value : ''",
      "labelPadding":11,"title":"PRIMARY IONIZATION (ARBITRARY UNITS)","titleFontSize":14,"titleX":-39,"titleBaseline":"middle","titleY":173}},
    "detail":{"field":"s"}}},
  {"data":{"name":"bd"},"mark":{"type":"rule","strokeWidth":1.5,"strokeDash":[14,7],"color":"black"},
   "encoding":{"y":{"field":"v","type":"quantitative","axis":null}}},
  {"data":{"name":"bl"},"mark":{"type":"line","strokeWidth":1.5,"color":"black"},
   "encoding":{"x":{"field":"b","type":"quantitative","axis":null},"y":{"field":"v","type":"quantitative","axis":null},"detail":{"field":"id"},"order":{"field":"o"}}},
  {"data":{"name":"be"},"mark":{"type":"rule","strokeWidth":1.5,"color":"black"},
   "encoding":{"x":{"field":"b","type":"quantitative","axis":null},"y":{"field":"lo","type":"quantitative","axis":null},"y2":{"field":"hi"}}},
  {"data":{"name":"be"},"mark":{"type":"tick","orient":"horizontal","size":9,"thickness":1.5,"color":"black"},
   "encoding":{"x":{"field":"b","type":"quantitative","axis":null},"y":{"field":"lo","type":"quantitative","axis":null}}},
  {"data":{"name":"be"},"mark":{"type":"tick","orient":"horizontal","size":9,"thickness":1.5,"color":"black"},
   "encoding":{"x":{"field":"b","type":"quantitative","axis":null},"y":{"field":"hi","type":"quantitative","axis":null}}},
  {"data":{"name":"bp"},"transform":[{"filter":"datum.t == 'f'"}],"mark":{"type":"circle","size":42,"color":"black","opacity":1},
   "encoding":{"x":{"field":"b","type":"quantitative","axis":null},"y":{"field":"v","type":"quantitative","axis":null}}},
  {"data":{"name":"bp"},"transform":[{"filter":"datum.t == 'o'"}],"mark":{"type":"point","shape":"circle","filled":true,"fill":"white","stroke":"black","strokeWidth":1.5,"size":34,"opacity":1},
   "encoding":{"x":{"field":"b","type":"quantitative","axis":null},"y":{"field":"v","type":"quantitative","axis":null}}},
  {"data":{"name":"bt"},"transform":[{"filter":"datum.a == 'c'"}],"mark":{"type":"text","align":"center","baseline":"middle"},
   "encoding":{
    "x":{"field":"b","type":"quantitative","axis":{"orient":"top","values":[0.0254,0.0655,0.1032,0.1453,0.2039,0.3151,0.4295,0.5677,0.6541,0.7593,0.876,0.9482],
      "labelExpr":"['0.3','2','5','10','20','50','100','200','300','500','1000','2000'][indexof([0.0254,0.0655,0.1032,0.1453,0.2039,0.3151,0.4295,0.5677,0.6541,0.7593,0.876,0.9482], datum.value)]",
      "labelFontSize":14,"labelPadding":10,"tickSize":-8,"title":"ENERGY / NUCLEON (MeV)","titlePadding":4}},
    "y":{"field":"v","type":"quantitative","axis":{"orient":"right","values":[1,2,3,4,5,6,7,8,9,10,20,30,40,50,60,70,80,90,100],"labels":false,
      "title":"(b)","titleAngle":0,"titleFont":"DejaVu Serif","titleFontWeight":"normal","titleFontSize":15,"titleAlign":"left","titleBaseline":"middle","titleX":6,"titleY":150}},
    "text":{"field":"t"}}},
  {"data":{"name":"bt"},"transform":[{"filter":"datum.a == 'l'"}],"mark":{"type":"text","align":"left","baseline":"middle"},
   "encoding":{"x":{"field":"b","type":"quantitative","axis":null},"y":{"field":"v","type":"quantitative","axis":null},"text":{"field":"t"}}}
 ]
}
]
}
